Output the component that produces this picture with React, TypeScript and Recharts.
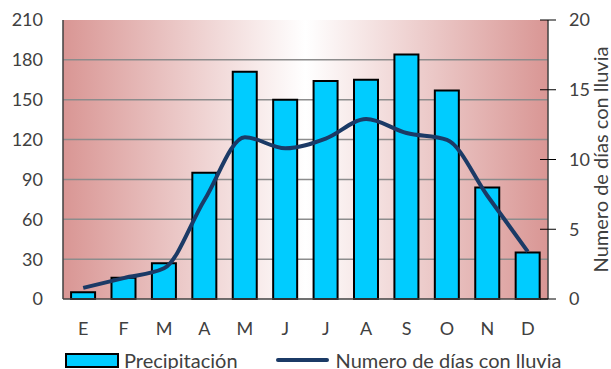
import React from "react";
import {
  ComposedChart,
  Bar,
  Line,
  XAxis,
  YAxis,
  CartesianGrid,
} from "recharts";

// Meses (iniciales) y valores
const months = ["E", "F", "M", "A", "M", "J", "J", "A", "S", "O", "N", "D"];
const precipitation = [5, 16, 27, 95, 171, 150, 164, 165, 184, 157, 84, 35];
const rainyDays = [0.8, 1.5, 2.2, 7.1, 11.6, 10.8, 11.5, 12.9, 11.9, 11.4, 7.4, 3.4];
const leftTicks = [0, 30, 60, 90, 120, 150, 180, 210];
const rightTicks = [0, 5, 10, 15, 20];

const data = months.map((m, i) => ({
  month: m,
  precip: precipitation[i],
  days: rainyDays[i],
}));

const FONT = "Lato, 'Open Sans', sans-serif";
const CYAN = "#00CCFF";
const NAVY = "#1B3A66";
const TEXT = "#404040";

function RightTick(props: any) {
  const { x, y, payload } = props;
  const axisX = x - 21;
  return (
    <g>
      <line x1={axisX - 8} x2={axisX + 8} y1={y} y2={y} stroke="#000" strokeWidth={1} />
      <text x={x} y={y} dy="0.355em" textAnchor="start" fill={TEXT} fontSize={18} fontFamily={FONT}>
        {payload.value}
      </text>
    </g>
  );
}

export default function App() {
  return (
    <div style={{ position: "relative", width: 611, height: 369, background: "#fff", fontFamily: FONT }}>
      <style>{`body{margin:0}`}</style>
      <ComposedChart
        width={611}
        height={369}
        data={data}
        margin={{ top: 20, right: 0, bottom: 30, left: 0 }}
        barCategoryGap="20%"
      >
        <defs>
          <linearGradient id="bg" x1="0" y1="0" x2="1" y2="0">
            <stop offset="0%" stopColor="#D99694" />
            <stop offset="50%" stopColor="#FFFFFF" />
            <stop offset="100%" stopColor="#D99694" />
          </linearGradient>
        </defs>
        <CartesianGrid
          yAxisId="left"
          vertical={false}
          fill="url(#bg)"
          fillOpacity={1}
          stroke="#8C8C8C"
          strokeWidth={1.5}
          horizontalValues={[30, 60, 90, 120, 150, 180]}
        />
        <XAxis
          dataKey="month"
          height={40}
          tickLine={false}
          tickSize={0}
          tickMargin={23}
          axisLine={{ stroke: "#404040", strokeWidth: 1.5 }}
          tick={{ fill: TEXT, fontSize: 18, fontFamily: FONT }}
          interval={0}
        />
        <YAxis
          yAxisId="left"
          width={63}
          domain={[0, 210]}
          ticks={leftTicks}
          interval={0}
          tickLine={false}
          tickSize={0}
          tickMargin={20}
          axisLine={{ stroke: "#404040", strokeWidth: 1.5 }}
          tick={{ fill: TEXT, fontSize: 18, fontFamily: FONT }}
        />
        <YAxis
          yAxisId="right"
          orientation="right"
          width={63}
          domain={[0, 20]}
          ticks={rightTicks}
          interval={0}
          tickLine={false}
          tickSize={8}
          tickMargin={13}
          axisLine={{ stroke: "#404040", strokeWidth: 1.5 }}
          tick={<RightTick />}
          label={{
            value: "Numero de días con lluvia",
            angle: -90,
            position: "center",
            dx: 21,
            style: { fill: TEXT, fontSize: 20, fontFamily: FONT, textAnchor: "middle" },
          }}
        />
        <Bar
          yAxisId="left"
          dataKey="precip"
          fill={CYAN}
          stroke="#000"
          strokeWidth={2}
          isAnimationActive={false}
        />
        <Line
          yAxisId="right"
          dataKey="days"
          type="monotone"
          stroke={NAVY}
          strokeWidth={4}
          dot={false}
          activeDot={false}
          isAnimationActive={false}
        />
      </ComposedChart>
      <div
        style={{
          position: "absolute",
          left: 65,
          top: 349,
          display: "flex",
          alignItems: "center",
          fontSize: 20,
          color: TEXT,
          whiteSpace: "nowrap",
          lineHeight: "22px",
        }}
      >
        <span
          style={{
            display: "inline-block",
            width: 50,
            height: 11,
            background: CYAN,
            border: "2px solid #000",
            marginRight: 5,
          }}
        />
        <span>Precipitación</span>
        <span
          style={{
            display: "inline-block",
            width: 53,
            height: 4,
            background: NAVY,
            borderRadius: 2,
            marginLeft: 38,
            marginRight: 7,
          }}
        />
        <span>Numero de días con lluvia</span>
      </div>
    </div>
  );
}
